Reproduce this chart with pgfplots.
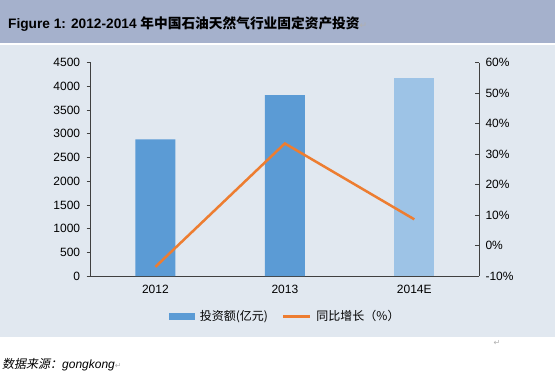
\documentclass[border=0pt]{standalone}
\usepackage{fontspec}
\setmainfont{Liberation Sans}
\newfontfamily\cjk{Noto Sans CJK SC}
\newfontfamily\cjkit[FakeSlant=0.2]{Noto Sans CJK SC}
\newfontfamily\sym{DejaVu Sans}
\usepackage{pgfplots}
\pgfplotsset{compat=1.18}
\definecolor{band}{HTML}{A5B1CC}
\definecolor{panel}{HTML}{E1E8F0}
\definecolor{barblue}{HTML}{5B9BD5}
\definecolor{barlight}{HTML}{9DC3E6}
\definecolor{lineorange}{HTML}{ED7D31}
\definecolor{axisgray}{HTML}{404040}
\definecolor{markgray}{HTML}{B0B0B0}
\begin{document}
\begin{tikzpicture}[x=1pt,y=1pt]
\fill[white] (0,0) rectangle (555,376);
\fill[band] (0,333.3) rectangle (555,376);
\fill[panel] (0,39.3) rectangle (555,331);
\node[anchor=base west, inner sep=0, font=\fontsize{13.7}{16}\selectfont\bfseries] at (8,348)
  {Figure 1: 2012-2014 {\cjk 年中国石油天然气行业固定资产投资}{\sym\mdseries\fontsize{9}{10}\selectfont\color{markgray}↵}};
\node[anchor=base west, inner sep=0, font=\fontsize{12}{14}\selectfont] at (2,8)
  {{\cjkit 数据来源：}\itshape gongkong{\sym\upshape\fontsize{8}{10}\selectfont\color{markgray}↵}};
\node[anchor=center, inner sep=0, font=\sym\fontsize{8}{10}\selectfont, text=markgray] at (497,33) {↵};

\begin{axis}[
  at={(90.7pt,100pt)}, anchor=south west,
  scale only axis, width=388.3pt, height=213.3pt,
  xmin=-0.5, xmax=2.5, ymin=0, ymax=4500,
  axis x line*=bottom, axis y line*=left,
  axis line style={axisgray, line width=0.8pt},
  xtick={0,1,2}, xticklabels={2012,2013,2014E},
  x tick style={draw=none},
  ytick={0,500,...,4500},
  y tick style={axisgray, line width=0.8pt},
  tick align=outside, major tick length=4pt,
  tick label style={font=\fontsize{12}{14}\selectfont, text=black},
  /pgf/number format/assume math mode=true,
  /pgf/number format/1000 sep={},
  yticklabel style={xshift=-3pt},
  xticklabel style={yshift=-2pt},
]
\addplot[ybar, bar width=40pt, bar shift=0pt, fill=barblue, draw=none] coordinates {(0,2880) (1,3818)};
\addplot[ybar, bar width=40pt, bar shift=0pt, fill=barlight, draw=none] coordinates {(2,4171)};
\end{axis}

\begin{axis}[
  at={(90.7pt,100pt)}, anchor=south west,
  scale only axis, width=388.3pt, height=213.3pt,
  xmin=-0.5, xmax=2.5, ymin=-10, ymax=60,
  axis x line=none, axis y line*=right,
  axis line style={axisgray, line width=0.8pt},
  ytick={-10,0,...,60},
  yticklabel={\pgfmathprintnumber{\tick}\%},
  y tick style={axisgray, line width=0.8pt},
  tick align=inside, major tick length=4pt,
  tick label style={font=\fontsize{12}{14}\selectfont, text=black},
  /pgf/number format/assume math mode=true,
  yticklabel style={xshift=3pt},
  legend columns=2,
  legend style={at={(0.5017,-0.19)}, anchor=center, draw=none, fill=none,
    font=\cjk\fontsize{12}{14}\selectfont, inner sep=0pt,
    /tikz/every odd column/.style={column sep=3pt},
    /tikz/every even column/.style={column sep=12pt}},
]
\addlegendimage{legend image code/.code={\fill[barblue] (0pt,-3pt) rectangle (25pt,3pt);}}
\addlegendentry{投资额(亿元)}
\addplot[lineorange, line width=2.5pt, legend image code/.code={\draw[lineorange, line width=2.5pt] (0pt,0pt) -- (27pt,0pt);}] coordinates {(0,-7.0) (1,33.5) (2,8.6)};
\addlegendentry{同比增长（\%）}
\end{axis}
\end{tikzpicture}
\end{document}
